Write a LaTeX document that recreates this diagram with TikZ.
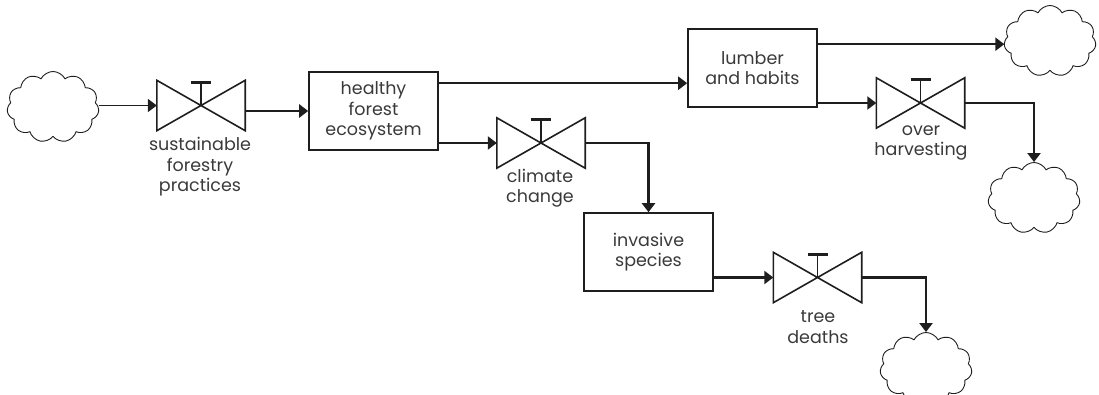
\documentclass[tikz,border=0pt]{standalone}
\usepackage{fontspec}
\setmainfont{Poppins}
\usetikzlibrary{shapes.symbols,arrows.meta,calc}

% bow-tie valve with a T handle, drawn on an invisible rectangle node
\newcommand\drawvalve[1]{%
  \draw[valveline] (#1.north west) -- (#1.south east) -- (#1.north east) -- (#1.south west) -- cycle;
  \draw[valveline] (#1.center) -- ([yshift=-2pt]#1.north);
  \draw[line width=2.8pt,draw=ink] ([xshift=-10pt,yshift=-2pt]#1.north) -- ([xshift=10pt,yshift=-2pt]#1.north);}

\definecolor{ink}{HTML}{1E1E1E}
\definecolor{txt}{HTML}{3A3A3A}

\begin{document}
\begin{tikzpicture}[x=1pt,y=-1pt,
  lbl/.style={font=\fontsize{17.5}{20.5}\selectfont, align=center, text=txt, inner sep=0},
  stock/.style={draw=ink, line width=1.6pt, minimum width=129pt, minimum height=78pt, inner sep=0, lbl},
  valvebox/.style={minimum width=88pt, minimum height=50pt, inner sep=0},
  valveline/.style={draw=ink, line width=1.6pt, line join=miter},
  puff/.style={cloud, cloud puffs=11, cloud puff arc=125, cloud ignores aspect, draw=ink, line width=0.9pt,
    inner sep=0, minimum width=92pt, minimum height=71pt},
  flow/.style={draw=ink, line width=2.6pt, -{Triangle[length=9pt,width=13pt]}},
]
\useasboundingbox (0,0) rectangle (1099,395);

% sources and sinks
\node[puff] (src) at (53,107) {};
\node[puff] (sinkA) at (1050,41) {};
\node[puff] (sinkB) at (1034,198) {};
\node[puff] (sinkC) at (926,368) {};

% stocks
\node[stock] (forest) at (373.5,111) {healthy\\forest\\ecosystem};
\node[stock] (lumber) at (752.5,68) {lumber\\and habits};
\node[stock] (invasive) at (648.5,252) {invasive\\species};

% valves
\node[valvebox] (vsust) at (201,105.5) {};
\node[valvebox] (vclim) at (541,143) {};
\node[valvebox] (vover) at (920.5,103) {};
\node[valvebox] (vtree) at (817.5,277.5) {};
\drawvalve{vsust}
\drawvalve{vclim}
\drawvalve{vover}
\drawvalve{vtree}

% valve labels
\node[lbl] (lsust) at (200,167) {sustainable\\forestry\\practices};
\node[lbl] (lclim) at (540,188) {climate\\change};
\node[lbl] (lover) at (921,143) {over\\harvesting};
\node[lbl] (ltree) at (818,327) {tree\\deaths};

% flows
\draw[flow, line width=1.8pt] (vsust.west -| src.east) -- (vsust.west);
\draw[flow] (forest.west -| vsust.east) -- (forest.west);
\draw[flow] ([yshift=-12pt]forest.north east) -- ([yshift=-12pt]forest.north east -| lumber.west);
\draw[flow] (vclim.west -| forest.east) -- (vclim.west);
\draw[flow] ([yshift=-16pt]lumber.north east) -- ([yshift=-16pt]lumber.north east -| sinkA.west);
\draw[flow] (vover.west -| lumber.east) -- (vover.west);
\draw[flow] (vover.east) -| (sinkB.north);
\draw[flow] (vclim.east) -| (invasive.north);
\draw[flow] (vtree.west -| invasive.east) -- (vtree.west);
\draw[flow] (vtree.east) -| (sinkC.north);
\end{tikzpicture}
\end{document}
